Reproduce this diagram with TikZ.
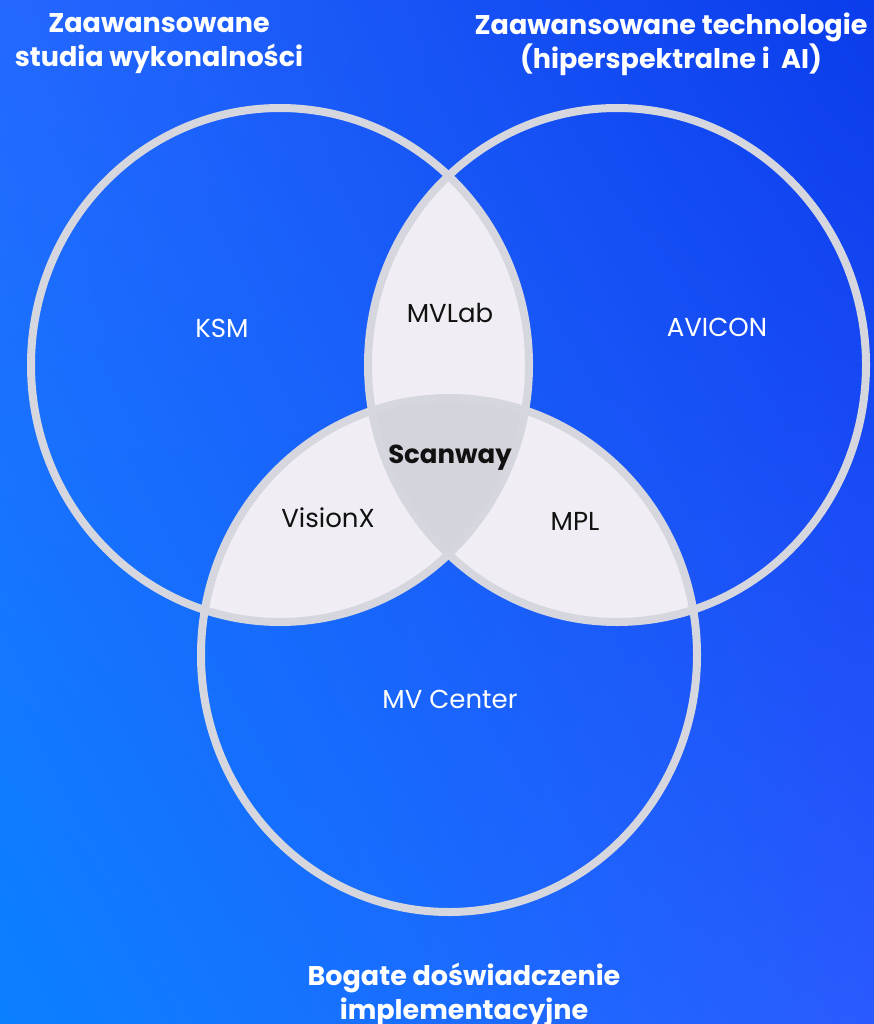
\documentclass[tikz,border=0pt]{standalone}
\usepackage{fontspec}
\usetikzlibrary{shadings}
\setmainfont{Poppins}
\definecolor{bgTL}{HTML}{2468FF}
\definecolor{bgTR}{HTML}{0A3CEB}
\definecolor{bgBL}{HTML}{0A80FF}
\definecolor{bgBR}{HTML}{2A5AFF}
\definecolor{ringgray}{HTML}{D5D6DE}
\definecolor{pairfill}{HTML}{F0EEF4}
\definecolor{triplefill}{HTML}{D4D5DC}
\definecolor{darktext}{HTML}{111111}
\newcommand{\ringA}{(280,365) ellipse [x radius=249, y radius=257]}
\newcommand{\ringB}{(617,365) ellipse [x radius=249, y radius=257]}
\newcommand{\ringC}{(449,655) ellipse [x radius=248, y radius=257]}
\begin{document}
\begin{tikzpicture}[x=1pt,y=-1pt,
  ring/.style={draw=ringgray,line width=8pt},
  title/.style={text=white,align=center,font=\bfseries\fontsize{27}{34}\selectfont},
  outlabel/.style={text=white,font=\fontsize{26}{30}\selectfont},
  inlabel/.style={text=darktext,font=\fontsize{26}{30}\selectfont}]
\useasboundingbox (0,0) rectangle (874,1024);
\shade[upper left=bgTL, upper right=bgTR, lower left=bgBL, lower right=bgBR] (0,0) rectangle (874,1024);
% pairwise intersections
\begin{scope}\clip \ringA; \fill[pairfill] \ringB; \end{scope}
\begin{scope}\clip \ringA; \fill[pairfill] \ringC; \end{scope}
\begin{scope}\clip \ringB; \fill[pairfill] \ringC; \end{scope}
% triple intersection
\begin{scope}\clip \ringA; \clip \ringB; \fill[triplefill] \ringC; \end{scope}
% rings
\draw[ring] \ringA;
\draw[ring] \ringB;
\draw[ring] \ringC;
% titles
\node[title] (t1) at (159,44) {Zaawansowane\\studia wykonalności};
\node[title] (t2) at (671,44) {Zaawansowane technologie\\(hiperspektralne i\ \ AI)};
\node[title] (t3) at (464,995) {Bogate doświadczenie\\implementacyjne};
% labels
\node[outlabel] (ksm) at (222,328) {KSM};
\node[outlabel] (avicon) at (717,327) {AVICON};
\node[outlabel] (mvc) at (450,699) {MV Center};
\node[inlabel] (mvlab) at (450,313) {MVLab};
\node[inlabel] (visionx) at (328,518) {VisionX};
\node[inlabel] (mpl) at (575,521) {MPL};
\node[inlabel,font=\bfseries\fontsize{26}{30}\selectfont] (scanway) at (450,458) {Scanway};
\end{tikzpicture}
\end{document}
